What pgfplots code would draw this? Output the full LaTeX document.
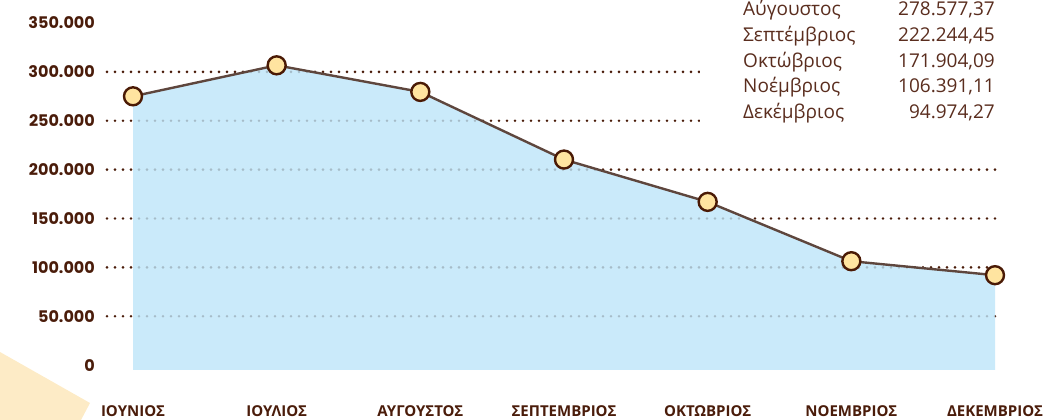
\documentclass[border=0pt]{standalone}
\usepackage{pgfplots}
\pgfplotsset{compat=1.18}
\usepackage{fontspec}
\setmainfont{Open Sans}
\newfontfamily\numfont{Poppins}
\definecolor{txtdark}{HTML}{4A1C0A}
\definecolor{tabtxt}{HTML}{5A2D1E}
\definecolor{markedge}{HTML}{4A1A05}
\definecolor{markfill}{HTML}{FFE4A0}
\definecolor{areacol}{HTML}{BDE5F9}
\definecolor{linecol}{HTML}{5E463D}
\definecolor{peach}{HTML}{FDEBC6}
\begin{document}
\begin{tikzpicture}[x=1pt,y=1pt]
\useasboundingbox (0,0) rectangle (1047,420);
\fill[peach] (0,68) -- (90,17) -- (81,0) -- (0,0) -- cycle;
\begin{axis}[
  at={(107pt,50pt)}, anchor=south west,
  scale only axis, width=888pt, height=347pt,
  xmin=-0.181, xmax=6, ymin=-5000, ymax=350000,
  clip=false,
  scaled y ticks=false,
  axis line style={draw=none},
  major tick length=0pt,
  xtick={0,1,2,3,4,5,6},
  xticklabels={ΙΟΥΝΙΟΣ,ΙΟΥΛΙΟΣ,ΑΥΓΟΥΣΤΟΣ,ΣΕΠΤΕΜΒΡΙΟΣ,ΟΚΤΩΒΡΙΟΣ,ΝΟΕΜΒΡΙΟΣ,ΔΕΚΕΜΒΡΙΟΣ},
  xticklabel style={font=\fontsize{15}{18}\selectfont\bfseries, text=txtdark, anchor=north, inner sep=0pt, yshift=-35pt},
  ytick={0,50000,100000,150000,200000,250000,300000,350000},
  yticklabels={0,50.000,100.000,150.000,200.000,250.000,300.000,350.000},
  yticklabel style={font=\numfont\fontsize{16}{18}\selectfont\bfseries, text=txtdark, anchor=east, inner sep=0pt, xshift=-12pt},
  extra y ticks={50000,100000,150000,200000,250000,300000},
  extra y tick labels={},
  extra y tick style={grid=major},
  major grid style={draw=txtdark, line width=2.8pt, line cap=round, dash pattern=on 0pt off 8pt},
]
\addplot[draw=none, fill=areacol, fill opacity=0.8] coordinates {
  (0,-5000) (0,275000) (1,306700) (2,279500) (3,210300) (4,167000) (5,106300) (6,92000) (6,-5000)
} -- cycle;
\addplot[linecol, line width=2.4pt, mark=*, mark size=9pt,
  mark options={fill=markfill, draw=markedge, line width=2.4pt}] coordinates {
  (0,275000) (1,306700) (2,279500) (3,210300) (4,167000) (5,106300) (6,92000)
};
\end{axis}
\fill[white] (700,290) rectangle (1047,420);
\begin{scope}[every node/.style={inner sep=0pt, text=tabtxt, font=\fontsize{19}{22}\selectfont}]
\node[anchor=base west] at (743,404) {Αύγουστος};
\node[anchor=base east] at (995,404) {278.577,37};
\node[anchor=base west] at (743,378) {Σεπτέμβριος};
\node[anchor=base east] at (995,378) {222.244,45};
\node[anchor=base west] at (743,352.5) {Οκτώβριος};
\node[anchor=base east] at (995,352.5) {171.904,09};
\node[anchor=base west] at (743,327) {Νοέμβριος};
\node[anchor=base east] at (995,327) {106.391,11};
\node[anchor=base west] at (743,301) {Δεκέμβριος};
\node[anchor=base east] at (995,301) {94.974,27};
\end{scope}
\end{tikzpicture}
\end{document}
